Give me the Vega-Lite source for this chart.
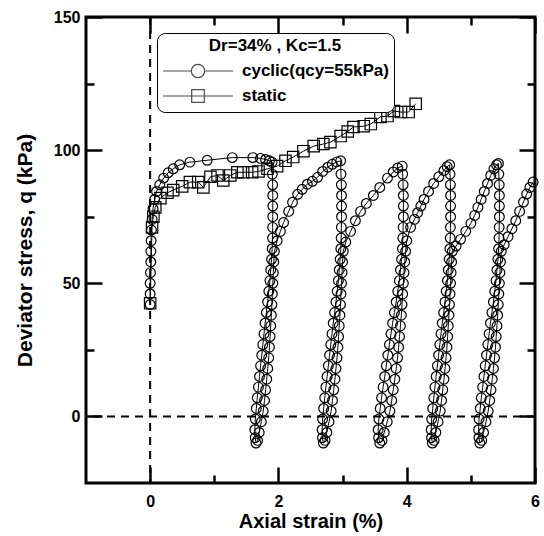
{
"$schema": "https://vega.github.io/schema/vega-lite/v6.json",
"width": 449, "height": 466,
"autosize": {"type": "none"},
"padding": {"left": 86, "top": 17, "right": 9, "bottom": 53},
"config": {
  "font": "Liberation Sans",
  "view": {"stroke": "black", "strokeWidth": 3},
  "axis": {"domain": false, "grid": false, "tickColor": "black", "tickWidth": 2.5, "labelFont": "Liberation Sans", "labelFontSize": 16, "labelFontWeight": "bold", "labelColor": "black", "labelFlush": false, "titleFont": "Liberation Sans", "titleFontWeight": "bold", "titleColor": "black", "titleFontSize": 20}
},
"datasets": {
"cyc": [
{"x":0,"q":42},{"x":0,"q":46},{"x":0,"q":50},{"x":0.005,"q":54},{"x":0.01,"q":58},{"x":0.012,"q":62},{"x":0.015,"q":66},{"x":0.02,"q":70},{"x":0.03,"q":74},{"x":0.045,"q":78},{"x":0.07,"q":81.5},{"x":0.1,"q":84.5},{"x":0.15,"q":87},{"x":0.21,"q":89.5},{"x":0.28,"q":91.5},{"x":0.36,"q":93},{"x":0.46,"q":94.5},{"x":0.62,"q":95.5},{"x":0.89,"q":96.2},{"x":1.28,"q":97.2},{"x":1.6,"q":97.2},{"x":1.72,"q":96.9},{"x":1.8,"q":96.5},{"x":1.86,"q":96},{"x":1.9,"q":95.5},
{"x":1.905,"q":91},{"x":1.91,"q":87},{"x":1.912,"q":83},{"x":1.912,"q":79},{"x":1.912,"q":75},{"x":1.91,"q":71},{"x":1.908,"q":67},{"x":1.902,"q":63},{"x":1.892,"q":59},{"x":1.88,"q":55},{"x":1.868,"q":51},{"x":1.85,"q":47},{"x":1.832,"q":43},{"x":1.812,"q":39},{"x":1.792,"q":35},{"x":1.775,"q":31},{"x":1.757,"q":27},{"x":1.74,"q":23},{"x":1.722,"q":19},{"x":1.705,"q":15},{"x":1.688,"q":11},{"x":1.67,"q":7},{"x":1.655,"q":3},{"x":1.64,"q":-1},{"x":1.632,"q":-5},{"x":1.638,"q":-8},{"x":1.65,"q":-10},
{"x":1.675,"q":-9},{"x":1.7,"q":-6},{"x":1.733,"q":-2},{"x":1.763,"q":2},{"x":1.783,"q":6},{"x":1.8,"q":10},{"x":1.818,"q":14},{"x":1.833,"q":18},{"x":1.848,"q":22},{"x":1.86,"q":26},{"x":1.87,"q":30},{"x":1.88,"q":34},{"x":1.89,"q":38},{"x":1.898,"q":42},{"x":1.905,"q":46},{"x":1.913,"q":50},{"x":1.92,"q":54},{"x":1.928,"q":58},{"x":1.938,"q":62},
{"x":1.98,"q":66},{"x":2.03,"q":69.5},{"x":2.08,"q":72.8},{"x":2.16,"q":77},{"x":2.22,"q":80.4},{"x":2.3,"q":83.4},{"x":2.37,"q":85.3},{"x":2.45,"q":87.2},{"x":2.53,"q":88.3},{"x":2.61,"q":89.8},{"x":2.69,"q":92},{"x":2.77,"q":93.6},{"x":2.84,"q":94.7},{"x":2.91,"q":95.6},{"x":2.97,"q":96},
{"x":2.975,"q":91},{"x":2.981,"q":87},{"x":2.984,"q":83},{"x":2.984,"q":79},{"x":2.984,"q":75},{"x":2.981,"q":71},{"x":2.978,"q":67},{"x":2.973,"q":63},{"x":2.962,"q":59},{"x":2.948,"q":55},{"x":2.935,"q":51},{"x":2.916,"q":47},{"x":2.897,"q":43},{"x":2.876,"q":39},{"x":2.854,"q":35},{"x":2.835,"q":31},{"x":2.816,"q":27},{"x":2.797,"q":23},{"x":2.778,"q":19},{"x":2.759,"q":15},{"x":2.74,"q":11},{"x":2.722,"q":7},{"x":2.705,"q":3},{"x":2.689,"q":-1},{"x":2.681,"q":-5},{"x":2.687,"q":-8},{"x":2.7,"q":-10},
{"x":2.727,"q":-9},{"x":2.754,"q":-6},{"x":2.789,"q":-2},{"x":2.822,"q":2},{"x":2.843,"q":6},{"x":2.862,"q":10},{"x":2.881,"q":14},{"x":2.897,"q":18},{"x":2.913,"q":22},{"x":2.927,"q":26},{"x":2.938,"q":30},{"x":2.948,"q":34},{"x":2.959,"q":38},{"x":2.967,"q":42},{"x":2.975,"q":46},{"x":2.984,"q":50},{"x":2.992,"q":54},{"x":3.0,"q":58},{"x":3.011,"q":62},
{"x":3.05,"q":65.5},{"x":3.125,"q":69.5},{"x":3.2,"q":73.5},{"x":3.28,"q":77},{"x":3.37,"q":80},{"x":3.48,"q":83},{"x":3.58,"q":86},{"x":3.7,"q":89.5},{"x":3.79,"q":91.8},{"x":3.86,"q":93.3},{"x":3.93,"q":94},
{"x":3.937,"q":91},{"x":3.944,"q":87},{"x":3.948,"q":83},{"x":3.948,"q":79},{"x":3.948,"q":75},{"x":3.944,"q":71},{"x":3.94,"q":67},{"x":3.934,"q":63},{"x":3.92,"q":59},{"x":3.902,"q":55},{"x":3.885,"q":51},{"x":3.86,"q":47},{"x":3.836,"q":43},{"x":3.808,"q":39},{"x":3.78,"q":35},{"x":3.755,"q":31},{"x":3.73,"q":27},{"x":3.706,"q":23},{"x":3.682,"q":19},{"x":3.657,"q":15},{"x":3.632,"q":11},{"x":3.608,"q":7},{"x":3.587,"q":3},{"x":3.566,"q":-1},{"x":3.555,"q":-5},{"x":3.562,"q":-8},{"x":3.58,"q":-10},
{"x":3.615,"q":-9},{"x":3.65,"q":-6},{"x":3.696,"q":-2},{"x":3.738,"q":2},{"x":3.766,"q":6},{"x":3.79,"q":10},{"x":3.815,"q":14},{"x":3.836,"q":18},{"x":3.857,"q":22},{"x":3.874,"q":26},{"x":3.888,"q":30},{"x":3.902,"q":34},{"x":3.916,"q":38},{"x":3.927,"q":42},{"x":3.937,"q":46},{"x":3.948,"q":50},{"x":3.958,"q":54},{"x":3.969,"q":58},{"x":3.983,"q":62},
{"x":4.0,"q":66},{"x":4.06,"q":71},{"x":4.12,"q":74},{"x":4.17,"q":76.5},{"x":4.22,"q":79},{"x":4.27,"q":81.5},{"x":4.34,"q":84.5},{"x":4.42,"q":87.5},{"x":4.5,"q":90},{"x":4.58,"q":92.3},{"x":4.63,"q":93.8},{"x":4.67,"q":94.5},
{"x":4.675,"q":91},{"x":4.681,"q":87},{"x":4.684,"q":83},{"x":4.684,"q":79},{"x":4.684,"q":75},{"x":4.681,"q":71},{"x":4.678,"q":67},{"x":4.673,"q":63},{"x":4.662,"q":59},{"x":4.648,"q":55},{"x":4.635,"q":51},{"x":4.616,"q":47},{"x":4.597,"q":43},{"x":4.576,"q":39},{"x":4.554,"q":35},{"x":4.535,"q":31},{"x":4.516,"q":27},{"x":4.497,"q":23},{"x":4.478,"q":19},{"x":4.459,"q":15},{"x":4.44,"q":11},{"x":4.422,"q":7},{"x":4.405,"q":3},{"x":4.389,"q":-1},{"x":4.381,"q":-5},{"x":4.387,"q":-8},{"x":4.4,"q":-10},
{"x":4.427,"q":-9},{"x":4.454,"q":-6},{"x":4.489,"q":-2},{"x":4.522,"q":2},{"x":4.543,"q":6},{"x":4.562,"q":10},{"x":4.581,"q":14},{"x":4.597,"q":18},{"x":4.613,"q":22},{"x":4.627,"q":26},{"x":4.638,"q":30},{"x":4.648,"q":34},{"x":4.659,"q":38},{"x":4.667,"q":42},{"x":4.675,"q":46},{"x":4.684,"q":50},{"x":4.692,"q":54},{"x":4.7,"q":58},{"x":4.711,"q":62},
{"x":4.77,"q":64},{"x":4.84,"q":66.5},{"x":4.92,"q":69.5},{"x":5.0,"q":72.5},{"x":5.06,"q":75.5},{"x":5.11,"q":78.5},{"x":5.16,"q":81.5},{"x":5.21,"q":84.5},{"x":5.26,"q":87.5},{"x":5.31,"q":90.5},{"x":5.36,"q":93},{"x":5.4,"q":94.5},{"x":5.43,"q":95},
{"x":5.436,"q":91},{"x":5.442,"q":87},{"x":5.445,"q":83},{"x":5.445,"q":79},{"x":5.445,"q":75},{"x":5.442,"q":71},{"x":5.439,"q":67},{"x":5.433,"q":63},{"x":5.421,"q":59},{"x":5.407,"q":55},{"x":5.392,"q":51},{"x":5.372,"q":47},{"x":5.352,"q":43},{"x":5.328,"q":39},{"x":5.305,"q":35},{"x":5.285,"q":31},{"x":5.265,"q":27},{"x":5.244,"q":23},{"x":5.224,"q":19},{"x":5.204,"q":15},{"x":5.184,"q":11},{"x":5.163,"q":7},{"x":5.146,"q":3},{"x":5.128,"q":-1},{"x":5.12,"q":-5},{"x":5.126,"q":-8},{"x":5.14,"q":-10},
{"x":5.169,"q":-9},{"x":5.198,"q":-6},{"x":5.236,"q":-2},{"x":5.27,"q":2},{"x":5.294,"q":6},{"x":5.314,"q":10},{"x":5.334,"q":14},{"x":5.352,"q":18},{"x":5.369,"q":22},{"x":5.384,"q":26},{"x":5.395,"q":30},{"x":5.407,"q":34},{"x":5.418,"q":38},{"x":5.427,"q":42},{"x":5.436,"q":46},{"x":5.445,"q":50},{"x":5.453,"q":54},{"x":5.462,"q":58},{"x":5.474,"q":62},
{"x":5.52,"q":64.5},{"x":5.58,"q":67.5},{"x":5.64,"q":70.5},{"x":5.7,"q":73.5},{"x":5.76,"q":77},{"x":5.82,"q":80.5},{"x":5.87,"q":83.5},{"x":5.92,"q":86},{"x":5.97,"q":88}
],
"sta": [
{"x":0.0,"q":42.5},{"x":0.03,"q":71},{"x":0.05,"q":75},{"x":0.08,"q":78.5},{"x":0.16,"q":82},{"x":0.27,"q":84},{"x":0.36,"q":85},{"x":0.5,"q":86.4},{"x":0.62,"q":88},{"x":0.75,"q":88},{"x":0.83,"q":86},{"x":0.94,"q":90},{"x":1.05,"q":90.5},{"x":1.14,"q":88.6},{"x":1.25,"q":90.5},{"x":1.36,"q":91.7},{"x":1.45,"q":91.7},{"x":1.59,"q":91.7},{"x":1.69,"q":92},{"x":1.83,"q":93},{"x":1.98,"q":94},{"x":2.11,"q":96},{"x":2.23,"q":97.4},{"x":2.39,"q":99.6},{"x":2.55,"q":101.5},{"x":2.7,"q":102.3},{"x":2.81,"q":103},{"x":2.97,"q":105.3},{"x":3.08,"q":107},{"x":3.17,"q":108.7},{"x":3.33,"q":109},{"x":3.44,"q":109.8},{"x":3.59,"q":112.5},{"x":3.7,"q":112.8},{"x":3.8,"q":114.7},{"x":3.91,"q":114.3},{"x":4.03,"q":114.3},{"x":4.14,"q":117.4}
]
},
"layer": [
  {"data": {"values": [{"k": 1}]},
   "mark": {"type": "rule", "strokeDash": [8, 6], "strokeWidth": 2, "color": "black"},
   "encoding": {"x": {"datum": 0, "type": "quantitative", "scale": {"domain": [-1, 6], "nice": false, "zero": false},
      "axis": {"orient": "bottom", "values": [0,1,2,3,4,5,6], "labelExpr": "datum.value % 2 === 0 ? datum.label : ''",
        "tickSize": {"condition": {"test": "datum.value % 2 === 0", "value": -16}, "value": -8},
        "labelPadding": 26, "title": "Axial strain (%)", "titlePadding": 2}}}},
  {"data": {"values": [{"k": 1}]},
   "mark": {"type": "rule", "strokeDash": [8, 6], "strokeWidth": 2, "color": "black"},
   "encoding": {"y": {"datum": 0, "type": "quantitative", "scale": {"domain": [-25, 150], "nice": false, "zero": false},
      "axis": {"orient": "left", "values": [0,25,50,75,100,125,150], "labelExpr": "datum.value % 50 === 0 ? datum.label : ''",
        "tickSize": {"condition": {"test": "datum.value % 50 === 0", "value": -16}, "value": -8},
        "labelPadding": 22, "title": "Deviator stress, q (kPa)", "titleFontSize": 21, "titlePadding": 18}}}},
  {"data": {"name": "sta"}, "mark": {"type": "line", "color": "black", "strokeWidth": 1},
   "encoding": {"order": {"value": null},
     "x": {"field": "x", "type": "quantitative", "scale": {"domain": [-1, 6], "nice": false, "zero": false},
       "axis": {"orient": "top", "values": [0,1,2,3,4,5,6], "labels": false, "title": null,
        "tickSize": {"condition": {"test": "datum.value % 2 === 0", "value": -16}, "value": -8}}},
     "y": {"field": "q", "type": "quantitative", "scale": {"domain": [-25, 150], "nice": false, "zero": false},
       "axis": {"orient": "right", "values": [0,25,50,75,100,125,150], "labels": false, "title": null,
        "tickSize": {"condition": {"test": "datum.value % 50 === 0", "value": -16}, "value": -8}}}}},
  {"data": {"name": "sta"}, "mark": {"type": "point", "shape": "square", "size": 130, "filled": false, "stroke": "black", "strokeWidth": 1.2, "opacity": 1},
   "encoding": {"x": {"field": "x", "type": "quantitative", "axis": null}, "y": {"field": "q", "type": "quantitative", "axis": null}}},
  {"data": {"name": "cyc"}, "mark": {"type": "line", "color": "black", "strokeWidth": 1},
   "encoding": {"order": {"value": null}, "x": {"field": "x", "type": "quantitative", "axis": null}, "y": {"field": "q", "type": "quantitative", "axis": null}}},
  {"data": {"name": "cyc"}, "mark": {"type": "point", "shape": "circle", "size": 95, "filled": false, "stroke": "black", "strokeWidth": 1.2, "opacity": 1},
   "encoding": {"x": {"field": "x", "type": "quantitative", "axis": null}, "y": {"field": "q", "type": "quantitative", "axis": null}}},
  {"data": {"values": [{"s": "static"}]}, "transform": [{"filter": "false"}],
   "mark": {"type": "point", "filled": false, "color": "black"},
   "encoding": {
     "shape": {"field": "s", "type": "nominal",
       "scale": {"domain": ["cyclic(qcy=55kPa)", "static"],
                 "range": ["M-1,0H-0.19M0.19,0H1M-0.19,0A0.19,0.19,0,1,0,0.19,0A0.19,0.19,0,1,0,-0.19,0", "M-1,0H1M-0.18,-0.18H0.18V0.18H-0.18Z"]},
       "legend": {"orient": "none", "legendX": 71, "legendY": 16, "title": "Dr=34% , Kc=1.5",
         "titleFont": "Liberation Sans", "titleFontSize": 17, "titleFontWeight": "bold", "titleColor": "black", "titleAnchor": "middle",
         "labelFont": "Liberation Sans", "labelFontSize": 17, "labelFontWeight": "bold", "labelColor": "black",
         "symbolSize": 4900, "symbolStrokeColor": "black", "symbolStrokeWidth": 1.2, "symbolFillColor": "transparent",
         "clipHeight": 22, "rowPadding": 3, "labelOffset": 8,
         "strokeColor": "black", "fillColor": "white", "cornerRadius": 8, "padding": 5}}}}
],
"resolve": {"axis": {"x": "independent", "y": "independent"}}
}
